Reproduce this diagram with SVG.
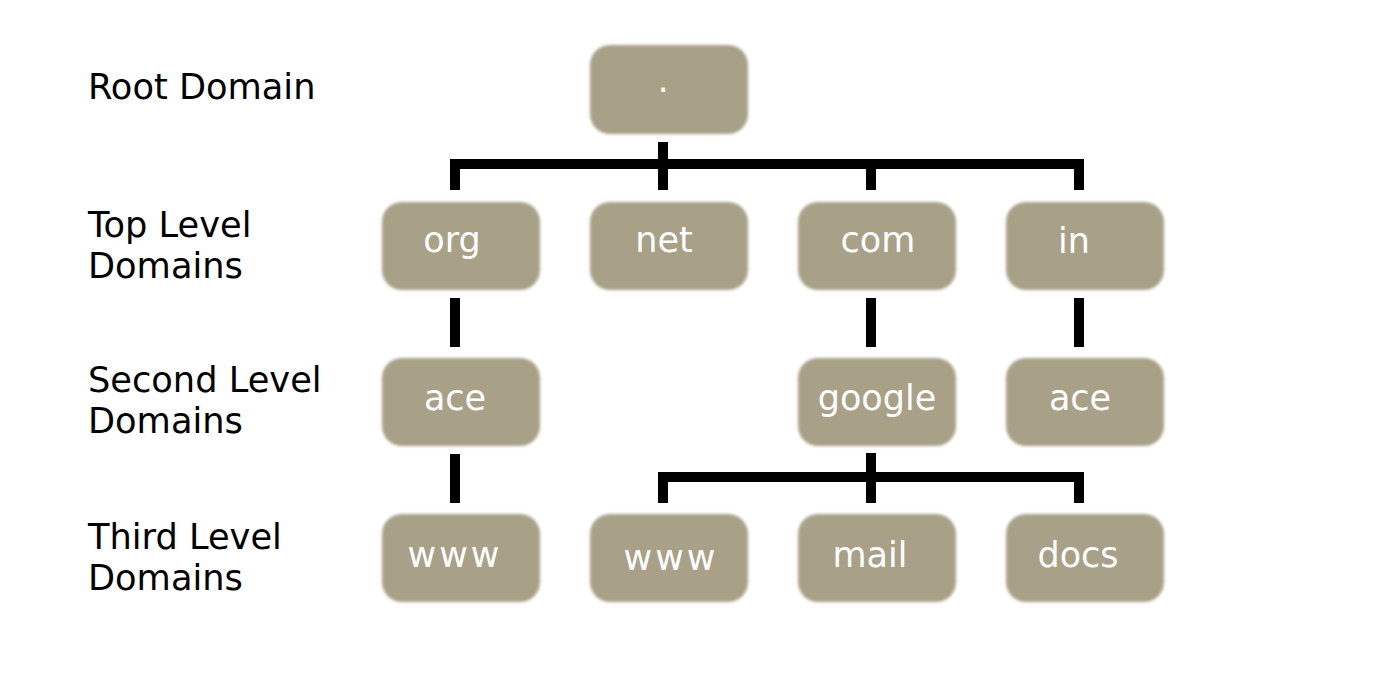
<svg xmlns="http://www.w3.org/2000/svg" width="1400" height="686" viewBox="0 0 1400 686">
<defs>
<filter id="soft" x="-10%" y="-10%" width="120%" height="120%"><feGaussianBlur stdDeviation="1.4"/></filter>
<style>
.box{fill:#a8a188;filter:url(#soft)}
.nt{font-family:"DejaVu Sans",sans-serif;font-size:35px;fill:#ffffff;text-anchor:middle}
.sp{letter-spacing:3px}
.lbl{font-family:"DejaVu Sans",sans-serif;font-size:35.2px;fill:#000000}
.con{fill:none;stroke:#000000;stroke-width:10;stroke-linejoin:miter;stroke-linecap:butt}
</style>
</defs>
<rect width="1400" height="686" fill="#ffffff"/>
<g id="labels">
<text class="lbl" x="88" y="99">Root Domain</text>
<text class="lbl" x="88" y="237">Top Level</text>
<text class="lbl" x="88" y="278">Domains</text>
<text class="lbl" x="88" y="392">Second Level</text>
<text class="lbl" x="88" y="433">Domains</text>
<text class="lbl" x="88" y="549">Third Level</text>
<text class="lbl" x="88" y="590">Domains</text>
</g>
<g id="connectors">
<path class="con" d="M663,142 V190"/>
<path class="con" d="M455,190 V164 H1079 V190"/>
<path class="con" d="M871,164 V190"/>
<path class="con" d="M455,298 V347"/>
<path class="con" d="M871,298 V347"/>
<path class="con" d="M1079,298 V347"/>
<path class="con" d="M455,454 V503"/>
<path class="con" d="M871,453 V503"/>
<path class="con" d="M663,503 V477 H1079 V503"/>
</g>
<g id="root"><rect class="box" x="590" y="45" width="158" height="89" rx="20"/><text class="nt" x="663" y="92">.</text></g>
<g id="org"><rect class="box" x="382" y="202" width="158" height="88" rx="20"/><text class="nt" x="452" y="252">org</text></g>
<g id="net"><rect class="box" x="590" y="202" width="158" height="88" rx="20"/><text class="nt" x="664" y="252">net</text></g>
<g id="com"><rect class="box" x="798" y="202" width="158" height="88" rx="20"/><text class="nt" x="878" y="252">com</text></g>
<g id="in"><rect class="box" x="1006" y="202" width="158" height="88" rx="20"/><text class="nt" x="1074" y="253">in</text></g>
<g id="ace-org"><rect class="box" x="382" y="358" width="158" height="88" rx="20"/><text class="nt" x="455" y="410">ace</text></g>
<g id="google"><rect class="box" x="798" y="358" width="158" height="88" rx="20"/><text class="nt" x="877" y="410">google</text></g>
<g id="ace-in"><rect class="box" x="1006" y="358" width="158" height="88" rx="20"/><text class="nt" x="1080" y="410">ace</text></g>
<g id="www-org"><rect class="box" x="382" y="514" width="158" height="88" rx="20"/><text class="nt sp" x="455" y="567">www</text></g>
<g id="www-com"><rect class="box" x="590" y="514" width="158" height="88" rx="20"/><text class="nt sp" x="671" y="570">www</text></g>
<g id="mail"><rect class="box" x="798" y="514" width="158" height="88" rx="20"/><text class="nt" x="870" y="567">mail</text></g>
<g id="docs"><rect class="box" x="1006" y="514" width="158" height="88" rx="20"/><text class="nt" x="1078" y="567">docs</text></g>
</svg>
